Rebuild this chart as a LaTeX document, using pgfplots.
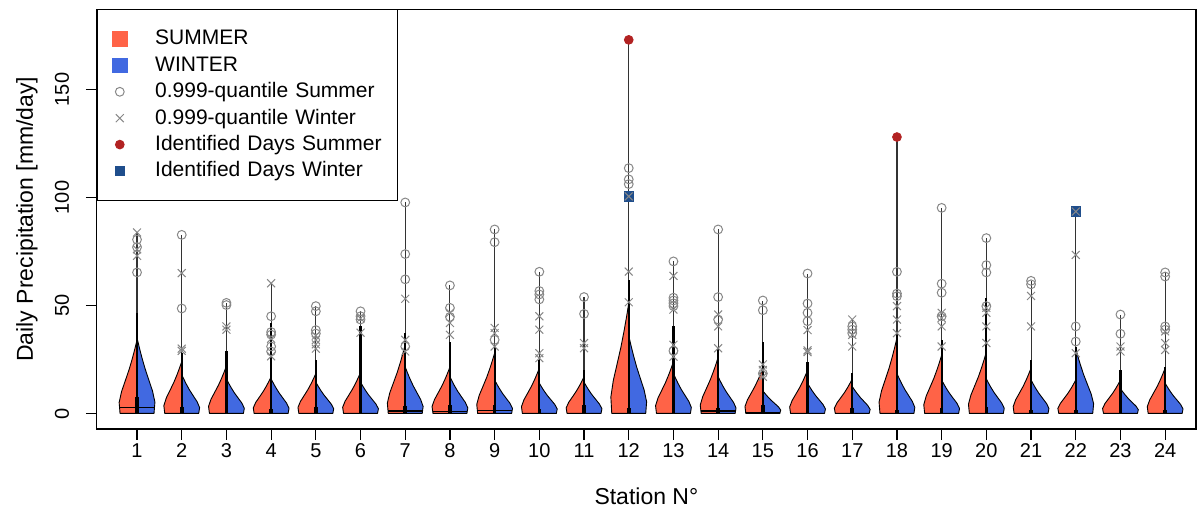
\documentclass[border=0pt]{standalone}
\usepackage{fontspec}
\setmainfont{Liberation Sans}
\usepackage{graphicx}
\usepackage{pgfplots}
\pgfplotsset{compat=1.18}
\definecolor{cS}{HTML}{FF6347}
\definecolor{cW}{HTML}{4169E1}
\definecolor{cQ}{HTML}{888888}
\definecolor{cR}{HTML}{B22222}
\definecolor{cB}{HTML}{1F4E8C}
\pgfplotsset{
  vS/.style={fill=cS, draw=black, line width=0.45pt, line join=round, forget plot},
  vW/.style={fill=cW, draw=black, line width=0.45pt, line join=round, forget plot},
}
% half violins: station, station-1, six profile heights, top
\newcommand{\vS}[9]{\addplot[vS] coordinates {(#1,0) (#2.62,0) (#2.6,#3) (#2.655,#4) (#2.74,#5) (#2.824,#6) (#2.896,#7) (#2.952,#8) (#1,#9)} -- cycle;}
\newcommand{\vW}[8]{\addplot[vW] coordinates {(#1,0) (#1.38,0) (#1.4,#2) (#1.345,#3) (#1.26,#4) (#1.176,#5) (#1.104,#6) (#1.048,#7) (#1,#8)} -- cycle;}
\begin{document}
\begin{tikzpicture}
\path[use as bounding box] (-48.4pt,-41.5pt) rectangle (551.6pt,214.5pt);
\begin{axis}[
  at={(0pt,0pt)}, anchor=south west,
  scale only axis, width=549.6pt, height=209.9pt,
  xmin=0.1, xmax=24.69, ymin=-7.2, ymax=187.2,
  axis line style={line width=0.6pt},
  xtick={1,...,24}, ytick={0,50,100,150},
  yticklabels={\rotatebox{90}{0},\rotatebox{90}{50},\rotatebox{90}{100},\rotatebox{90}{150}},
  xtick pos=left, ytick pos=left,
  tick align=outside, major tick length=5.4pt,
  tick style={line width=0.6pt, black},
  /pgf/number format/assume math mode=true,
  ticklabel style={font=\fontsize{10}{12}\selectfont},
  yticklabel style={anchor=east, xshift=-4.9pt},
  xticklabel style={anchor=base, yshift=-9.1pt},
  xlabel={Station N°}, ylabel={Daily Precipitation [mm/day]},
  label style={font=\fontsize{11.5}{13}\selectfont},
  xlabel style={at={(axis description cs:0.5,-0.181)}, anchor=base},
  ylabel style={at={(axis description cs:-0.0582,0.5)}, anchor=base},
  legend style={at={(0,1)}, anchor=north west, draw=black, line width=0.6pt, fill=white,
    inner xsep=2pt, inner ysep=8pt, font=\fontsize{10.5}{12}\selectfont,
    nodes={inner sep=1.6pt, text height=8pt, text depth=2pt},
    /tikz/every even column/.append style={text width=117.4pt}},
  legend cell align=left,
  legend image code/.code={\path (0pt,0pt) (24.7pt,0pt); \draw[#1] plot coordinates {(8.9pt,0pt)};},
]
\addlegendimage{only marks, mark=square*, mark size=3.6pt, color=cS, mark options={rounded corners=1.2pt}}
\addlegendentry{SUMMER}
\addlegendimage{only marks, mark=square*, mark size=3.6pt, color=cW, mark options={rounded corners=1.2pt}}
\addlegendentry{WINTER}
\addlegendimage{only marks, mark=o, mark size=2.2pt, color=cQ, line width=0.5pt}
\addlegendentry{0.999-quantile Summer}
\addlegendimage{only marks, mark=x, mark size=2.8pt, color=cQ, line width=0.5pt}
\addlegendentry{0.999-quantile Winter}
\addlegendimage{only marks, mark=*, mark size=2.1pt, color=cR}
\addlegendentry{Identified Days Summer}
\addlegendimage{only marks, mark=square*, mark size=2.3pt, color=cB}
\addlegendentry{Identified Days Winter}

\vS{1}{0}{5.1}{10.2}{15.3}{20.4}{25.5}{29.92}{34}
\vW{1}{5.25}{10.5}{15.75}{21}{26.25}{30.8}{35}
\vS{2}{1}{3.6}{7.2}{10.8}{14.4}{18}{21.12}{24}
\vW{2}{2.7}{5.4}{8.1}{10.8}{13.5}{15.84}{18}
\vS{3}{2}{3.3}{6.6}{9.9}{13.2}{16.5}{19.36}{22}
\vW{3}{2.4}{4.8}{7.2}{9.6}{12}{14.08}{16}
\vS{4}{3}{2.55}{5.1}{7.65}{10.2}{12.75}{14.96}{17}
\vW{4}{2.4}{4.8}{7.2}{9.6}{12}{14.08}{16}
\vS{5}{4}{2.78}{5.55}{8.33}{11.1}{13.88}{16.28}{18.5}
\vW{5}{2.18}{4.35}{6.53}{8.7}{10.88}{12.76}{14.5}
\vS{6}{5}{2.85}{5.7}{8.55}{11.4}{14.25}{16.72}{19}
\vW{6}{2.18}{4.35}{6.53}{8.7}{10.88}{12.76}{14.5}
\vS{7}{6}{4.8}{9.6}{14.4}{19.2}{24}{28.16}{32}
\vW{7}{3.23}{6.45}{9.68}{12.9}{16.13}{18.92}{21.5}
\vS{8}{7}{3.23}{6.45}{9.68}{12.9}{16.13}{18.92}{21.5}
\vW{8}{2.55}{5.1}{7.65}{10.2}{12.75}{14.96}{17}
\vS{9}{8}{4.2}{8.4}{12.6}{16.8}{21}{24.64}{28}
\vW{9}{2.33}{4.65}{6.98}{9.3}{11.63}{13.64}{15.5}
\vS{10}{9}{3.15}{6.3}{9.45}{12.6}{15.75}{18.48}{21}
\vW{10}{2.1}{4.2}{6.3}{8.4}{10.5}{12.32}{14}
\vS{11}{10}{2.55}{5.1}{7.65}{10.2}{12.75}{14.96}{17}
\vW{11}{2.18}{4.35}{6.53}{8.7}{10.88}{12.76}{14.5}
\vS{12}{11}{7.65}{15.3}{22.95}{30.6}{38.25}{44.88}{51}
\vW{12}{5.4}{10.8}{16.2}{21.6}{27}{31.68}{36}
\vS{13}{12}{3.6}{7.2}{10.8}{14.4}{18}{21.12}{24}
\vW{13}{2.78}{5.55}{8.33}{11.1}{13.88}{16.28}{18.5}
\vS{14}{13}{3.9}{7.8}{11.7}{15.6}{19.5}{22.88}{26}
\vW{14}{2.55}{5.1}{7.65}{10.2}{12.75}{14.96}{17}
\vS{15}{14}{3.15}{6.3}{9.45}{12.6}{15.75}{18.48}{21}
\vW{15}{1.58}{3.15}{4.73}{6.3}{7.88}{9.24}{10.5}
\vS{16}{15}{3}{6}{9}{12}{15}{17.6}{20}
\vW{16}{2.1}{4.2}{6.3}{8.4}{10.5}{12.32}{14}
\vS{17}{16}{2.4}{4.8}{7.2}{9.6}{12}{14.08}{16}
\vW{17}{1.88}{3.75}{5.63}{7.5}{9.38}{11}{12.5}
\vS{18}{17}{5.25}{10.5}{15.75}{21}{26.25}{30.8}{35}
\vW{18}{2.78}{5.55}{8.33}{11.1}{13.88}{16.28}{18.5}
\vS{19}{18}{4.05}{8.1}{12.15}{16.2}{20.25}{23.76}{27}
\vW{19}{2.33}{4.65}{6.98}{9.3}{11.63}{13.64}{15.5}
\vS{20}{19}{4.28}{8.55}{12.83}{17.1}{21.38}{25.08}{28.5}
\vW{20}{2.4}{4.8}{7.2}{9.6}{12}{14.08}{16}
\vS{21}{20}{3.15}{6.3}{9.45}{12.6}{15.75}{18.48}{21}
\vW{21}{2.33}{4.65}{6.98}{9.3}{11.63}{13.64}{15.5}
\vS{22}{21}{2.33}{4.65}{6.98}{9.3}{11.63}{13.64}{15.5}
\vW{22}{4.5}{9}{13.5}{18}{22.5}{26.4}{30}
\vS{23}{22}{2.33}{4.65}{6.98}{9.3}{11.63}{13.64}{15.5}
\vW{23}{1.73}{3.45}{5.18}{6.9}{8.63}{10.12}{11.5}
\vS{24}{23}{3.15}{6.3}{9.45}{12.6}{15.75}{18.48}{21}
\vW{24}{2.1}{4.2}{6.3}{8.4}{10.5}{12.32}{14}

% medians
\addplot[black, line width=0.6pt, forget plot] coordinates {(0.61,2.7) (1.39,2.7)};
\addplot[black, line width=0.6pt, forget plot] coordinates {(6.61,1.1) (7.39,1.1)};
\addplot[black, line width=0.6pt, forget plot] coordinates {(7.61,1.0) (8.39,1.0)};
\addplot[black, line width=0.6pt, forget plot] coordinates {(8.61,1.4) (9.39,1.4)};
\addplot[black, line width=0.6pt, forget plot] coordinates {(13.61,1.1) (14.39,1.1)};
\addplot[black, line width=0.6pt, forget plot] coordinates {(14.61,0.6) (15.39,0.6)};

% thin line to maximum
\addplot[ycomb, no marks, draw=black!80, line width=0.55pt, forget plot] coordinates {
(1,83.8)(2,82.7)(3,51.2)(4,60.3)(5,49.7)(6,47.3)(7,97.7)(8,59.3)(9,85.2)(10,65.6)(11,53.9)(12,173)
(13,70.4)(14,85.2)(15,52.3)(16,64.8)(17,43.5)(18,128)(19,95.2)(20,81.2)(21,61.4)(22,93.5)(23,45.8)(24,65.3)};
% thick whisker
\addplot[ycomb, no marks, draw=black, line width=1.1pt, forget plot] coordinates {
(1,46.6)(2,28)(3,28.7)(4,42)(5,24.8)(6,40.3)(7,37.2)(8,33.3)(9,31)(10,24.8)(11,20)(12,62)
(13,40.3)(14,31)(15,33.3)(16,24)(17,18.5)(18,37.2)(19,34.1)(20,53.4)(21,24.8)(22,31)(23,20)(24,21.6)};
% box
\addplot[ycomb, no marks, draw=black, line width=1.8pt, forget plot] coordinates {
(1,7.6)(2,3.1)(3,3.4)(4,1.9)(5,3.1)(6,2.6)(7,3.4)(8,3.9)(9,3.9)(10,1.9)(11,3.9)(12,2.6)
(13,2.6)(14,2.6)(15,3.9)(16,2.3)(17,2.3)(18,1.6)(19,2.3)(20,3.1)(21,1.6)(22,1.6)(23,1.6)(24,1.6)};

% identified days
\addplot[only marks, mark=*, mark size=2.2pt, color=cR, forget plot] coordinates {(12,173)(18,128)};
\addplot[only marks, mark=square*, mark size=2.4pt, color=cB, forget plot] coordinates {(12,100.5)(22,93.5)};

% 0.999 quantile summer
\addplot[only marks, mark=o, mark size=2.2pt, color=cQ, line width=0.5pt, forget plot] coordinates {
(1,80.5)(1,77)(1,65.3)
(2,82.7)(2,48.6)
(3,51.2)(3,50.2)
(4,45)(4,37.7)(4,36.5)(4,31)(4,28.7)
(5,49.7)(5,47.3)(5,38.6)(5,37)
(6,47.3)(6,45)(6,43.5)
(7,97.7)(7,73.8)(7,62.1)(7,31)
(8,59.3)(8,48.9)(8,44.7)
(9,85.2)(9,79.3)(9,34.1)
(10,65.6)(10,56.7)(10,55.1)(10,52.8)
(11,53.9)(11,46.1)
(12,113.6)(12,108.4)(12,106.2)
(13,70.4)(13,53.6)(13,52.3)(13,51)(13,49.7)(13,29)
(14,85.2)(14,53.9)(14,43.5)
(15,52.3)(15,47.8)(15,18.5)
(16,64.8)(16,50.9)(16,46.6)(16,42.7)
(17,40.3)(17,38.8)(17,37.2)
(18,65.6)(18,55.5)(18,54.3)
(19,95.2)(19,60.1)(19,55.9)(19,45)
(20,81.2)(20,68.7)(20,65.3)(20,49.7)
(21,61.4)(21,59.8)
(22,40.3)(22,33.3)
(23,45.8)(23,36.9)
(24,65.3)(24,63.4)(24,40.3)(24,38.8)};
% 0.999 quantile winter
\addplot[only marks, mark=x, mark size=2.8pt, color=cQ, line width=0.5pt, forget plot] coordinates {
(1,83.8)(1,76)(1,73)
(2,65)(2,30)(2,29)
(3,40.3)(3,38.8)
(4,60.3)(4,34.6)(4,26.5)
(5,36)(5,34)(5,32)(5,30)
(6,44)(6,37.4)
(7,53.1)(7,34.1)(7,28.7)
(8,46.6)(8,41.9)(8,36.4)
(9,39.6)(9,37.2)(9,31)
(10,45)(10,38.8)(10,27.9)(10,25.6)
(11,32.6)(11,30.2)
(12,100.5)(12,65.7)(12,51.5)
(13,63.7)(13,48.1)(13,31.8)(13,26.3)
(14,45.8)(14,40.3)(14,30.2)
(15,22.7)(15,20.1)(15,17)
(16,38.6)(16,29.2)(16,28.4)
(17,43.5)(17,36.4)(17,31)
(18,49.7)(18,43.5)(18,37.2)
(19,46.6)(19,44.2)(19,40.3)(19,31)
(20,48.9)(20,46.6)(20,40.3)(20,32.6)
(21,54.4)(21,40.3)
(22,93.5)(22,73.4)(22,27.9)
(23,31)(23,28.7)
(24,38)(24,32.6)(24,29.4)};
\end{axis}
\end{tikzpicture}
\end{document}
